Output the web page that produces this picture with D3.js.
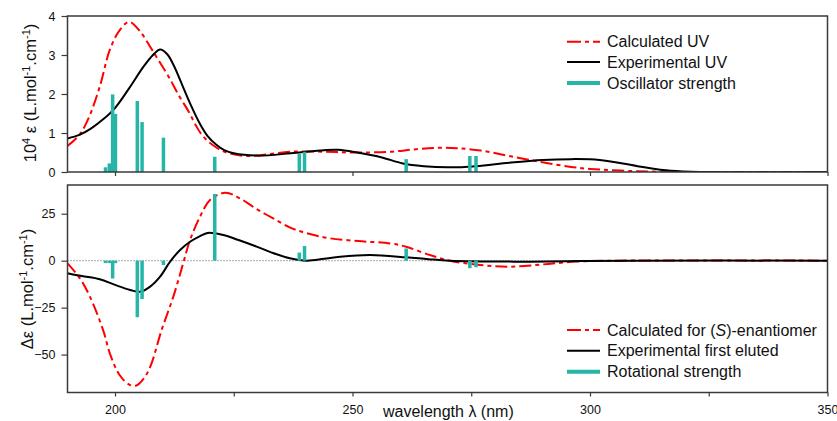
<!DOCTYPE html>
<html>
<head>
<meta charset="utf-8">
<script src="https://cdn.jsdelivr.net/npm/d3@7"></script>
<style>
  html, body { margin: 0; padding: 0; background: #fff; }
  svg { display: block; }
  text { font-family: "Liberation Sans", Arial, sans-serif; fill: #111; }
</style>
</head>
<body>
<svg id="chart" width="837" height="421"></svg>
<script>
// ---------- DATA ----------
// UV: 10^4 ε
const uvCalcX = [190, 192.5, 194.5, 196.8, 198.9, 201, 203, 205.3, 207.4, 209.5, 211.5, 213.5, 215.5, 217, 218, 219.3, 220.5, 222, 224, 227.7, 232, 237, 244, 250, 258, 263, 268, 272, 277, 283, 290, 296, 300, 310, 320, 335, 350];
const uvCalcY = [0.67, 0.95, 1.4, 2.19, 3.13, 3.64, 3.85, 3.6, 3.21, 2.8, 2.4, 1.95, 1.55, 1.2, 1.0, 0.82, 0.7, 0.58, 0.48, 0.41, 0.45, 0.52, 0.52, 0.5, 0.52, 0.58, 0.62, 0.61, 0.55, 0.41, 0.25, 0.13, 0.08, 0.02, 0, 0, 0];

const uvExpX = [190, 192.5, 195, 197.5, 200, 203, 206, 208, 209.5, 211, 212.5, 213.7, 215.8, 217.9, 219.5, 221.4, 223, 225, 230, 237, 244, 247, 251, 256, 260.6, 265, 270, 276, 283, 290, 296, 302, 310, 317, 325, 350];
const uvExpY = [0.86, 0.95, 1.12, 1.35, 1.64, 2.15, 2.7, 3.0, 3.14, 3.02, 2.7, 2.36, 1.76, 1.23, 0.92, 0.69, 0.56, 0.48, 0.42, 0.48, 0.56, 0.57, 0.5, 0.38, 0.22, 0.15, 0.12, 0.15, 0.24, 0.31, 0.33, 0.31, 0.15, 0.03, 0, 0];

// Transitions (calculated excited states)
const stateX = [198.0, 198.8, 199.5, 200.1, 204.7, 205.7, 210.2, 221.0, 238.8, 239.9, 261.3, 274.7, 276.0];
const oscStrength = [0.12, 0.22, 1.99, 1.49, 1.82, 1.28, 0.88, 0.39, 0.46, 0.52, 0.33, 0.41, 0.41];
const rotStrength = [-1.3, -1.3, -9.5, -1.3, -30.1, -20.4, -2.3, 35.5, 4.3, 7.8, 6.5, -4.0, -3.5];

// ECD: Δε
const cdCalcX = [190, 192.5, 194.7, 197.5, 199, 201, 203, 204.5, 206, 207.5, 209.8, 212.3, 214.4, 215.8, 217.9, 220, 223.2, 226.3, 229.5, 233.3, 237, 240.4, 245.3, 252, 257.9, 261.3, 266.3, 270.5, 276.8, 283, 290, 297, 305, 350];
const cdCalcY = [-1.4, -9, -19, -37, -50, -61, -66, -66.5, -63, -56, -37, -19, -1, 11, 23.4, 32.3, 36.2, 33.2, 28, 22.5, 17.5, 14.6, 11.9, 10.3, 9.2, 7.4, 3, 0, -2.3, -3.2, -2, -0.5, 0, 0];

const cdExpX = [190, 193, 196.8, 200, 203.2, 205.3, 207.4, 209.5, 211.6, 213.7, 215.8, 217.9, 219.5, 222.8, 226, 229.8, 233, 236.8, 240.4, 244, 247.4, 253.7, 261.3, 266, 270.5, 283, 295, 310, 350];
const cdExpY = [-6.7, -8.2, -9.9, -12.9, -15.6, -16.5, -13.8, -8.5, -0.5, 5.7, 10.1, 13.1, 14.8, 13.7, 11, 7.5, 4.3, 1.3, 0, 1, 2.1, 3, 1.8, 0.8, 0, -0.5, -0.3, 0, 0];

// Ticks & labels
const xTicksMajor = [200, 250, 300, 350];
const xTicksAll = [200, 225, 250, 275, 300, 325, 350];
const uvTicks = [0, 1, 2, 3, 4];
const cdTicks = [-50, -25, 0, 25];
const legendTop = ["Calculated UV", "Experimental UV", "Oscillator strength"];
const legendBottom = ["Calculated for (S)-enantiomer", "Experimental first eluted", "Rotational strength"];

// ---------- STYLE ----------
const RED = "#ff0000", BLACK = "#000000", TEAL = "#27b5a8", AXIS = "#3a3a3a";
const DASH = "12,4,4,4";

const svg = d3.select("#chart");
const L = 67.5, R = 827.5;
const topP = { t: 16, b: 172 };
const botP = { t: 185, b: 392.5 };

const x = d3.scaleLinear().domain([190, 350]).range([L, R]);
const yU = d3.scaleLinear().domain([0, 4]).range([topP.b, topP.t]);
const yC = d3.scaleLinear().domain([-70.2, 40.3]).range([botP.b, botP.t]);

const zip = (xs, ys) => xs.map((v, i) => [v, ys[i]]);

// clip paths
const defs = svg.append("defs");
defs.append("clipPath").attr("id", "clipTop").append("rect")
  .attr("x", L).attr("y", topP.t).attr("width", R - L).attr("height", topP.b - topP.t);
defs.append("clipPath").attr("id", "clipBot").append("rect")
  .attr("x", L).attr("y", botP.t).attr("width", R - L).attr("height", botP.b - botP.t);

function panel(yScale, p, clipId, calcX, calcY, expX, expY, strengths, showLabels, ticksX) {
  const g = svg.append("g");
  const pg = g.append("g").attr("clip-path", `url(#${clipId})`);
  if (clipId === "clipBot") {
    pg.append("line")
      .attr("x1", L).attr("x2", R).attr("y1", yScale(0)).attr("y2", yScale(0))
      .attr("stroke", "#555").attr("stroke-width", 1).attr("stroke-dasharray", "1,2");
  }
  const line = d3.line().x(d => x(d[0])).y(d => yScale(d[1])).curve(d3.curveCatmullRom.alpha(0.5));
  pg.append("path").datum(zip(calcX, calcY)).attr("d", line)
    .attr("fill", "none").attr("stroke", RED).attr("stroke-width", 2).attr("stroke-dasharray", DASH);
  pg.append("path").datum(zip(expX, expY)).attr("d", line)
    .attr("fill", "none").attr("stroke", BLACK).attr("stroke-width", 2);
  pg.selectAll("rect.bar").data(zip(stateX, strengths)).join("rect")
    .attr("class", "bar")
    .attr("x", d => x(d[0]) - 1.75).attr("width", 3.5)
    .attr("y", d => Math.min(yScale(0), yScale(d[1])))
    .attr("height", d => Math.abs(yScale(d[1]) - yScale(0)))
    .attr("fill", TEAL);

  // frame
  g.append("rect").attr("x", L).attr("y", p.t).attr("width", R - L).attr("height", p.b - p.t)
    .attr("fill", "none").attr("stroke", AXIS).attr("stroke-width", 1.5);

  // y axis
  const ya = g.append("g").attr("transform", `translate(${L},0)`)
    .call(d3.axisLeft(yScale).tickValues(clipId === "clipTop" ? uvTicks : cdTicks).tickSize(6).tickPadding(6).tickFormat(d3.format("d")));
  ya.select(".domain").remove();
  ya.selectAll(".tick line").attr("stroke", AXIS).attr("stroke-width", 1.2);
  ya.selectAll(".tick text").style("font-size", "12.5px").style("font-family", "Liberation Sans, Arial, sans-serif").attr("fill", "#111");

  // x axis
  const xa = g.append("g").attr("transform", `translate(0,${p.b})`)
    .call(d3.axisBottom(x).tickValues(ticksX).tickSize(4).tickPadding(9)
      .tickFormat(d => (showLabels && xTicksMajor.includes(d)) ? d : ""));
  xa.select(".domain").remove();
  xa.selectAll(".tick line").attr("stroke", AXIS).attr("stroke-width", 1.2);
  xa.selectAll(".tick text").style("font-size", "12.5px").style("font-family", "Liberation Sans, Arial, sans-serif").attr("fill", "#111");
  return g;
}

panel(yU, topP, "clipTop", uvCalcX, uvCalcY, uvExpX, uvExpY, oscStrength, false, xTicksMajor);
panel(yC, botP, "clipBot", cdCalcX, cdCalcY, cdExpX, cdExpY, rotStrength, true, xTicksAll);

// axis titles
const yl1 = svg.append("text").attr("transform", "translate(36,93) rotate(-90)")
  .attr("text-anchor", "middle").style("font-size", "16.5px");
yl1.append("tspan").text("10");
yl1.append("tspan").text("4").attr("dy", -6).style("font-size", "11px");
yl1.append("tspan").text(" ε (L.mol").attr("dy", 6);
yl1.append("tspan").text("-1").attr("dy", -6).style("font-size", "11px");
yl1.append("tspan").text(".cm").attr("dy", 6);
yl1.append("tspan").text("-1").attr("dy", -6).style("font-size", "11px");
yl1.append("tspan").text(")").attr("dy", 6);

const yl2 = svg.append("text").attr("transform", "translate(33,289) rotate(-90)")
  .attr("text-anchor", "middle").style("font-size", "16.5px");
yl2.append("tspan").text("Δε (L.mol");
yl2.append("tspan").text("-1").attr("dy", -6).style("font-size", "11px");
yl2.append("tspan").text(".cm").attr("dy", 6);
yl2.append("tspan").text("-1").attr("dy", -6).style("font-size", "11px");
yl2.append("tspan").text(")").attr("dy", 6);

svg.append("text").attr("x", 383).attr("y", 417).style("font-size", "16px").text("wavelength λ (nm)");

// legends
function legend(rowsY, labels) {
  const styles = [
    { c: RED, w: 2, d: DASH },
    { c: BLACK, w: 2, d: null },
    { c: TEAL, w: 4, d: null }
  ];
  rowsY.forEach((yy, i) => {
    const s = styles[i];
    const ln = svg.append("line").attr("x1", 567).attr("x2", 600).attr("y1", yy).attr("y2", yy)
      .attr("stroke", s.c).attr("stroke-width", s.w);
    if (s.d) ln.attr("stroke-dasharray", "14,4,4,4");
    const t = svg.append("text").attr("x", 607).attr("y", yy).attr("dy", "0.35em").style("font-size", "16px");
    const lab = labels[i];
    const m = lab.match(/^(.*\()S(\).*)$/);
    if (m) {
      t.append("tspan").text(m[1]);
      t.append("tspan").text("S").style("font-style", "italic");
      t.append("tspan").text(m[2]);
    } else {
      t.text(lab);
    }
  });
}
legend([41.7, 62, 83], legendTop);
legend([330, 350.7, 371.7], legendBottom);
</script>
</body>
</html>
